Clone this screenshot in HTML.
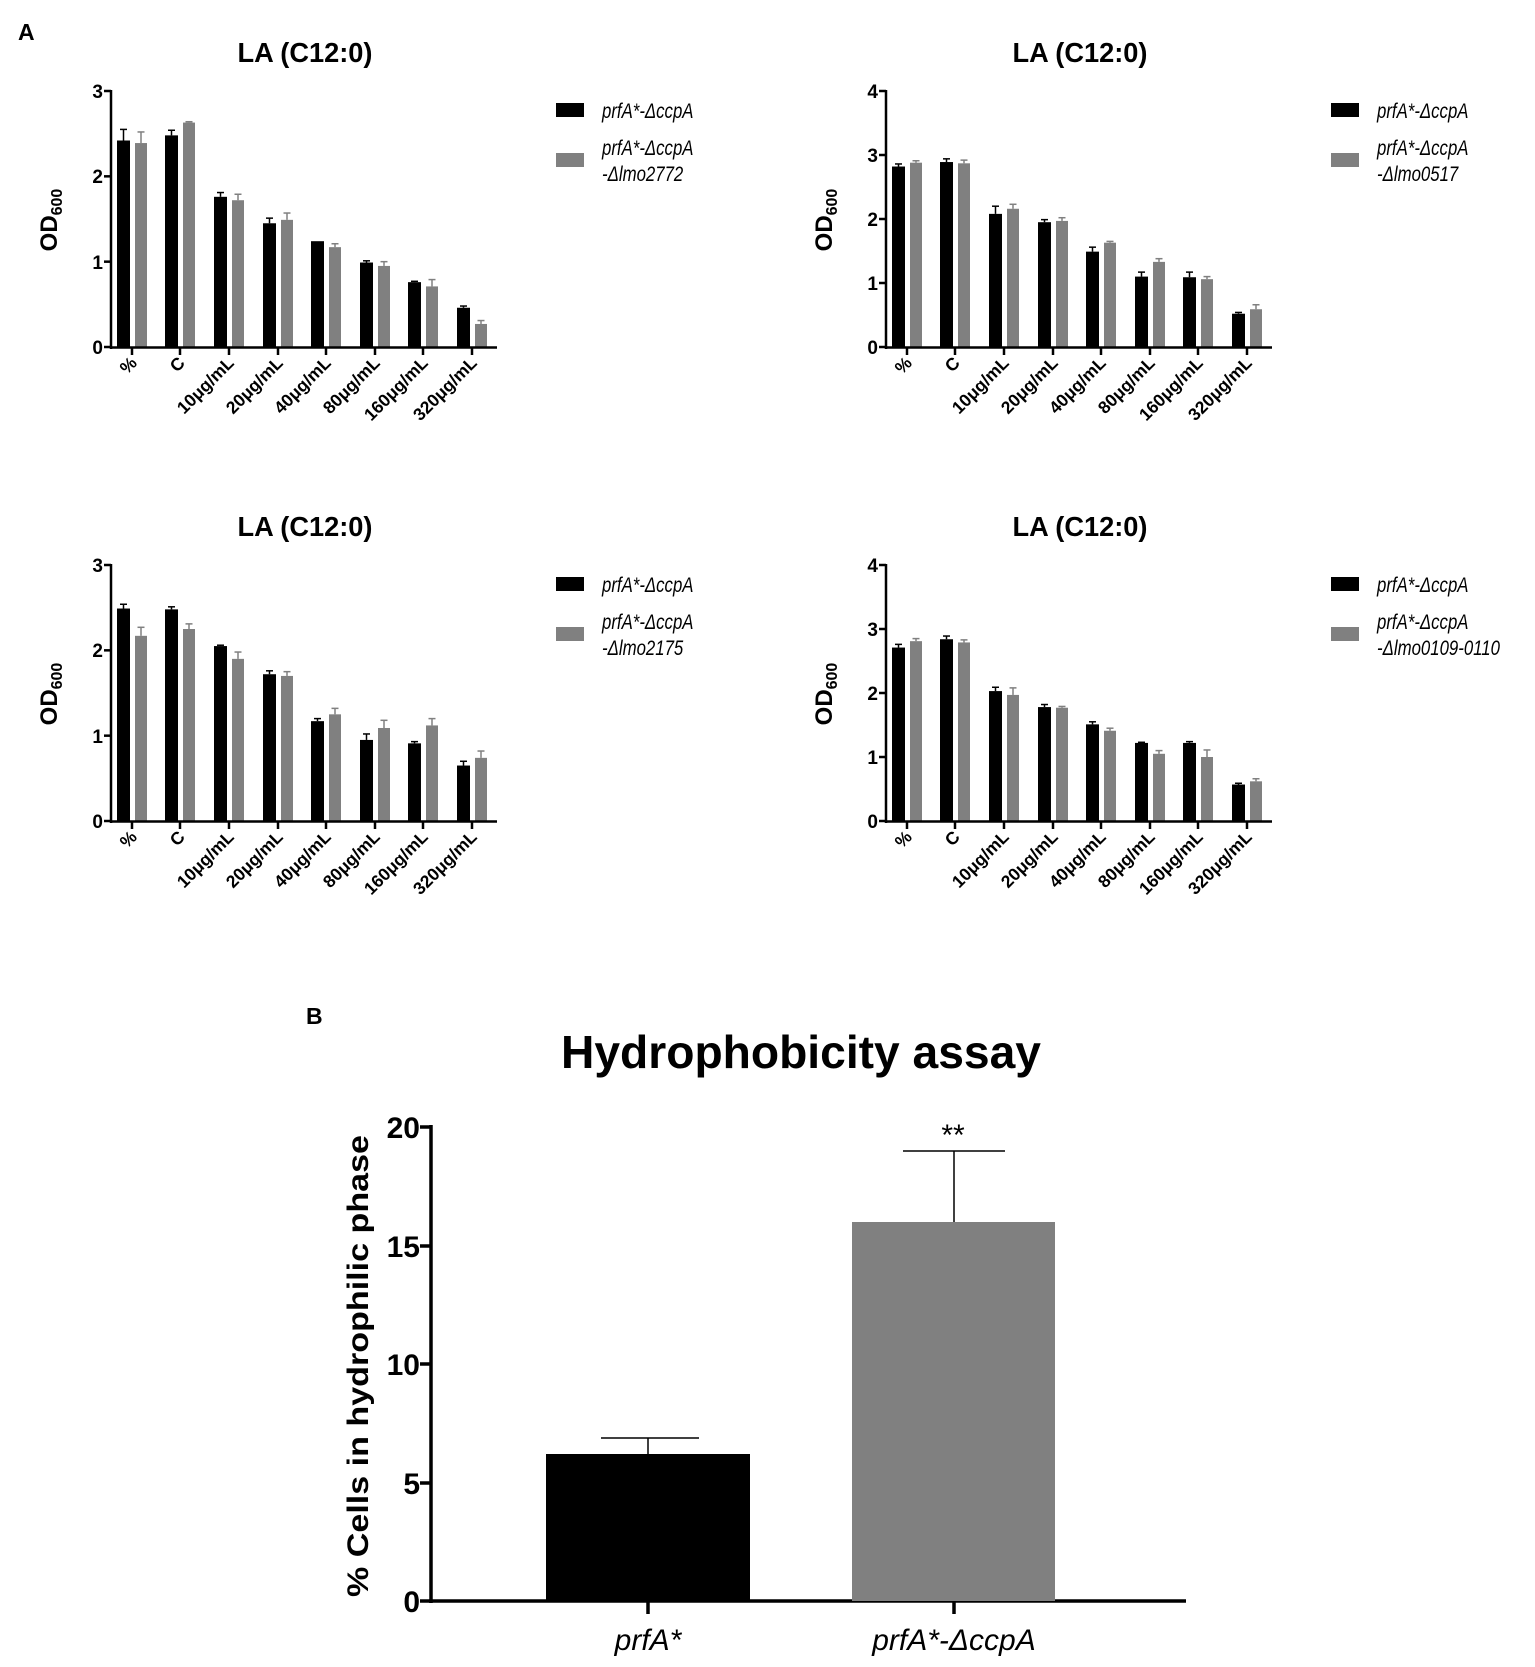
<!DOCTYPE html>
<html><head><meta charset="utf-8"><style>
html,body{margin:0;padding:0;background:#fff;}
svg{display:block;}
text{font-family:"Liberation Sans",Arial,sans-serif;}
.b{font-weight:bold;}
.i{font-style:italic;}
</style></head><body>
<svg id="s" width="1535" height="1667" viewBox="0 0 1535 1667" xmlns="http://www.w3.org/2000/svg">
<rect width="1535" height="1667" fill="#fff"/>
<text x="18" y="40" class="b" font-size="23">A</text>

<g id="c0" transform="translate(0,0)">
<text x="305" y="62" class="b" font-size="28" text-anchor="middle" textLength="135" lengthAdjust="spacingAndGlyphs">LA (C12:0)</text>
<text class="b" font-size="24" transform="translate(57,220) rotate(-90)" text-anchor="middle">OD<tspan font-size="16" dy="5">600</tspan></text>
<g class="b" font-size="19" text-anchor="end"><text x="103" y="98">3</text><text x="103" y="183">2</text><text x="103" y="269">1</text><text x="103" y="354">0</text></g>
<g class="b" font-size="17.5" text-anchor="end">
<text transform="translate(138,364) rotate(-45)">%</text><text transform="translate(186,364) rotate(-45)">C</text><text transform="translate(235,364) rotate(-45)">10μg/mL</text><text transform="translate(284,364) rotate(-45)">20μg/mL</text><text transform="translate(332,364) rotate(-45)">40μg/mL</text><text transform="translate(381,364) rotate(-45)">80μg/mL</text><text transform="translate(429,364) rotate(-45)">160μg/mL</text><text transform="translate(478,364) rotate(-45)">320μg/mL</text></g>
<rect x="556" y="103" width="28" height="14" fill="#000"/><rect x="556" y="153" width="28" height="14" fill="#808080"/>
<g class="i" font-size="21" transform="translate(602,0) scale(0.8,1)"><text x="0" y="118">prfA*-ΔccpA</text><text x="0" y="155">prfA*-ΔccpA</text><text x="0" y="181">-Δlmo2772</text></g>
</g>

<g id="c1" transform="translate(775,0)">
<text x="305" y="62" class="b" font-size="28" text-anchor="middle" textLength="135" lengthAdjust="spacingAndGlyphs">LA (C12:0)</text>
<text class="b" font-size="24" transform="translate(57,220) rotate(-90)" text-anchor="middle">OD<tspan font-size="16" dy="5">600</tspan></text>
<g class="b" font-size="19" text-anchor="end"><text x="103" y="98">4</text><text x="103" y="162">3</text><text x="103" y="226">2</text><text x="103" y="290">1</text><text x="103" y="354">0</text></g>
<g class="b" font-size="17.5" text-anchor="end">
<text transform="translate(138,364) rotate(-45)">%</text><text transform="translate(186,364) rotate(-45)">C</text><text transform="translate(235,364) rotate(-45)">10μg/mL</text><text transform="translate(284,364) rotate(-45)">20μg/mL</text><text transform="translate(332,364) rotate(-45)">40μg/mL</text><text transform="translate(381,364) rotate(-45)">80μg/mL</text><text transform="translate(429,364) rotate(-45)">160μg/mL</text><text transform="translate(478,364) rotate(-45)">320μg/mL</text></g>
<rect x="556" y="103" width="28" height="14" fill="#000"/><rect x="556" y="153" width="28" height="14" fill="#808080"/>
<g class="i" font-size="21" transform="translate(602,0) scale(0.8,1)"><text x="0" y="118">prfA*-ΔccpA</text><text x="0" y="155">prfA*-ΔccpA</text><text x="0" y="181">-Δlmo0517</text></g>
</g>

<g id="c2" transform="translate(0,474)">
<text x="305" y="62" class="b" font-size="28" text-anchor="middle" textLength="135" lengthAdjust="spacingAndGlyphs">LA (C12:0)</text>
<text class="b" font-size="24" transform="translate(57,220) rotate(-90)" text-anchor="middle">OD<tspan font-size="16" dy="5">600</tspan></text>
<g class="b" font-size="19" text-anchor="end"><text x="103" y="98">3</text><text x="103" y="183">2</text><text x="103" y="269">1</text><text x="103" y="354">0</text></g>
<g class="b" font-size="17.5" text-anchor="end">
<text transform="translate(138,364) rotate(-45)">%</text><text transform="translate(186,364) rotate(-45)">C</text><text transform="translate(235,364) rotate(-45)">10μg/mL</text><text transform="translate(284,364) rotate(-45)">20μg/mL</text><text transform="translate(332,364) rotate(-45)">40μg/mL</text><text transform="translate(381,364) rotate(-45)">80μg/mL</text><text transform="translate(429,364) rotate(-45)">160μg/mL</text><text transform="translate(478,364) rotate(-45)">320μg/mL</text></g>
<rect x="556" y="103" width="28" height="14" fill="#000"/><rect x="556" y="153" width="28" height="14" fill="#808080"/>
<g class="i" font-size="21" transform="translate(602,0) scale(0.8,1)"><text x="0" y="118">prfA*-ΔccpA</text><text x="0" y="155">prfA*-ΔccpA</text><text x="0" y="181">-Δlmo2175</text></g>
</g>

<g id="c3" transform="translate(775,474)">
<text x="305" y="62" class="b" font-size="28" text-anchor="middle" textLength="135" lengthAdjust="spacingAndGlyphs">LA (C12:0)</text>
<text class="b" font-size="24" transform="translate(57,220) rotate(-90)" text-anchor="middle">OD<tspan font-size="16" dy="5">600</tspan></text>
<g class="b" font-size="19" text-anchor="end"><text x="103" y="98">4</text><text x="103" y="162">3</text><text x="103" y="226">2</text><text x="103" y="290">1</text><text x="103" y="354">0</text></g>
<g class="b" font-size="17.5" text-anchor="end">
<text transform="translate(138,364) rotate(-45)">%</text><text transform="translate(186,364) rotate(-45)">C</text><text transform="translate(235,364) rotate(-45)">10μg/mL</text><text transform="translate(284,364) rotate(-45)">20μg/mL</text><text transform="translate(332,364) rotate(-45)">40μg/mL</text><text transform="translate(381,364) rotate(-45)">80μg/mL</text><text transform="translate(429,364) rotate(-45)">160μg/mL</text><text transform="translate(478,364) rotate(-45)">320μg/mL</text></g>
<rect x="556" y="103" width="28" height="14" fill="#000"/><rect x="556" y="153" width="28" height="14" fill="#808080"/>
<g class="i" font-size="21" transform="translate(602,0) scale(0.8,1)"><text x="0" y="118">prfA*-ΔccpA</text><text x="0" y="155">prfA*-ΔccpA</text><text x="0" y="181">-Δlmo0109-0110</text></g>
</g>

<!-- Panel B -->
<text x="306" y="1024" class="b" font-size="23">B</text>
<text x="801" y="1068" class="b" font-size="46" text-anchor="middle" textLength="480" lengthAdjust="spacingAndGlyphs">Hydrophobicity assay</text>
<text class="b" font-size="30" transform="translate(368,1366) rotate(-90)" text-anchor="middle" textLength="462" lengthAdjust="spacingAndGlyphs">% Cells in hydrophilic phase</text>
<g class="b" font-size="30" text-anchor="end"><text x="420" y="1138">20</text><text x="420" y="1257">15</text><text x="420" y="1375">10</text><text x="420" y="1494">5</text><text x="420" y="1612">0</text></g>
<g stroke="#000" stroke-width="3.5" fill="none">
<line x1="431" y1="1125" x2="431" y2="1603"/><line x1="429" y1="1601" x2="1186" y2="1601"/>
<line x1="420" y1="1127" x2="431" y2="1127"/><line x1="420" y1="1246" x2="431" y2="1246"/><line x1="420" y1="1364" x2="431" y2="1364"/><line x1="420" y1="1483" x2="431" y2="1483"/><line x1="420" y1="1601" x2="431" y2="1601"/>
<line x1="648" y1="1601" x2="648" y2="1614"/><line x1="954" y1="1601" x2="954" y2="1614"/>
</g>
<rect x="546" y="1454" width="204" height="147" fill="#000"/>
<rect x="852" y="1222" width="203" height="379" fill="#808080"/>
<g stroke="#000" stroke-width="1.5"><line x1="648" y1="1454" x2="648" y2="1438"/><line x1="601" y1="1438" x2="699" y2="1438"/>
<line x1="954" y1="1222" x2="954" y2="1151"/><line x1="903" y1="1151" x2="1005" y2="1151"/></g>
<text x="953" y="1145" font-size="30" text-anchor="middle">**</text>
<g class="i" font-size="30" text-anchor="middle"><text x="648" y="1650">prfA*</text><text x="954" y="1650">prfA*-ΔccpA</text></g>
</svg>
<script>
var D=[
{s:3,b:[2.42,2.48,1.76,1.45,1.24,0.99,0.76,0.46],be:[.13,.06,.05,.06,0,.02,.01,.02],g:[2.39,2.63,1.72,1.49,1.17,0.95,0.71,0.27],ge:[.13,.01,.07,.08,.04,.05,.08,.04]},
{s:4,b:[2.82,2.89,2.08,1.95,1.49,1.10,1.09,0.52],be:[.04,.05,.12,.04,.07,.07,.08,.02],g:[2.88,2.87,2.16,1.97,1.63,1.33,1.06,0.59],ge:[.03,.05,.07,.05,.02,.05,.04,.07]},
{s:3,b:[2.49,2.48,2.05,1.72,1.17,0.95,0.91,0.65],be:[.05,.03,.01,.04,.03,.07,.02,.05],g:[2.17,2.25,1.90,1.70,1.25,1.09,1.12,0.74],ge:[.10,.06,.08,.05,.07,.09,.08,.08]},
{s:4,b:[2.71,2.84,2.03,1.78,1.51,1.22,1.22,0.57],be:[.05,.05,.06,.04,.04,.01,.02,.02],g:[2.81,2.79,1.97,1.77,1.41,1.05,1.00,0.62],ge:[.04,.04,.11,.02,.04,.05,.11,.04]}];
var T=[132,180,229,278,326,375,423,472],NS="http://www.w3.org/2000/svg";
function el(p,n,a){var e=document.createElementNS(NS,n);for(var k in a)e.setAttribute(k,a[k]);p.appendChild(e);return e;}
D.forEach(function(d,ci){var g=document.getElementById('c'+ci);var k=256/d.s;
 function bar(x,w,v,e,c){var y=347-v*k;el(g,'rect',{x:x,y:y,width:w,height:v*k,fill:c});
  if(e>0){var ye=347-(v+e)*k,cx=x+w/2;el(g,'line',{x1:cx,y1:y,x2:cx,y2:ye,stroke:c,'stroke-width':1.5});el(g,'line',{x1:cx-3.5,y1:ye,x2:cx+3.5,y2:ye,stroke:c,'stroke-width':1.5});}}
 for(var i=0;i<8;i++){bar(T[i]-15,13,d.b[i],d.be[i],'#000');bar(T[i]+3,12,d.g[i],d.ge[i],'#808080');}
 el(g,'line',{x1:111,y1:90,x2:111,y2:349,stroke:'#000','stroke-width':2.5});
 el(g,'line',{x1:110,y1:347.5,x2:497,y2:347.5,stroke:'#000','stroke-width':2.5});
 for(var j=0;j<=d.s;j++){var y=347-j*k;el(g,'line',{x1:104,y1:y,x2:111,y2:y,stroke:'#000','stroke-width':2.5});}
 T.forEach(function(t){el(g,'line',{x1:t,y1:347,x2:t,y2:355,stroke:'#000','stroke-width':2.5});});
});
</script>
</body></html>
